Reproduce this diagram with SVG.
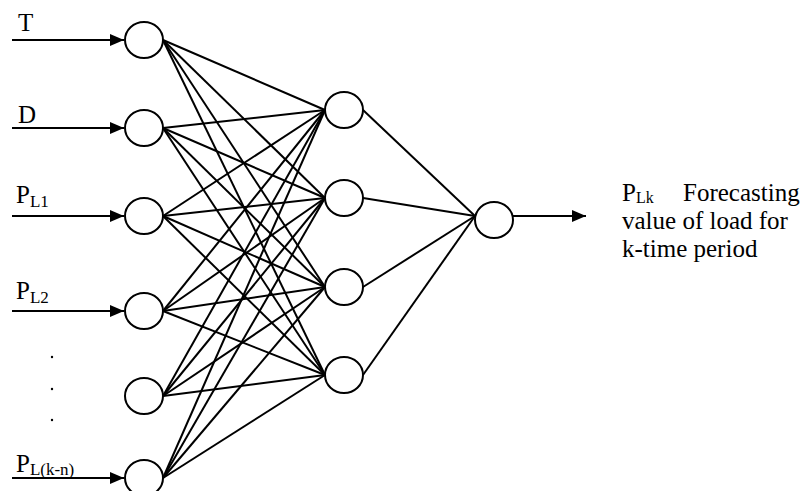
<svg xmlns="http://www.w3.org/2000/svg" width="810" height="491" viewBox="0 0 810 491">
<defs>
<style>
.n{fill:#fff;stroke:#000;stroke-width:2}
.c line{stroke:#000;stroke-width:2}
.t{font-family:"Liberation Serif","Times New Roman",serif;font-size:25px;fill:#000}
.s{font-size:17px}
.s2{font-size:16px}
</style>
<marker id="ah" markerWidth="14" markerHeight="12" refX="14" refY="6" orient="auto" markerUnits="userSpaceOnUse">
<path d="M0,0 L14,6 L0,12 Z" fill="#000"/>
</marker>
</defs>
<rect width="810" height="491" fill="#fff"/>
<g id="connectors" class="c">
<line x1="12" y1="40" x2="124" y2="40" marker-end="url(#ah)"/>
<line x1="12" y1="128" x2="124" y2="128" marker-end="url(#ah)"/>
<line x1="12" y1="216" x2="124" y2="216" marker-end="url(#ah)"/>
<line x1="12" y1="311" x2="124" y2="311" marker-end="url(#ah)"/>
<line x1="12" y1="478" x2="124" y2="478" marker-end="url(#ah)"/>
<line x1="163" y1="40" x2="325" y2="110"/><line x1="163" y1="40" x2="325" y2="198"/><line x1="163" y1="40" x2="325" y2="287"/><line x1="163" y1="40" x2="325" y2="375"/>
<line x1="163" y1="128" x2="325" y2="110"/><line x1="163" y1="128" x2="325" y2="198"/><line x1="163" y1="128" x2="325" y2="287"/><line x1="163" y1="128" x2="325" y2="375"/>
<line x1="163" y1="216" x2="325" y2="110"/><line x1="163" y1="216" x2="325" y2="198"/><line x1="163" y1="216" x2="325" y2="287"/><line x1="163" y1="216" x2="325" y2="375"/>
<line x1="163" y1="311" x2="325" y2="110"/><line x1="163" y1="311" x2="325" y2="198"/><line x1="163" y1="311" x2="325" y2="287"/><line x1="163" y1="311" x2="325" y2="375"/>
<line x1="163" y1="396" x2="325" y2="110"/><line x1="163" y1="396" x2="325" y2="198"/><line x1="163" y1="396" x2="325" y2="287"/><line x1="163" y1="396" x2="325" y2="375"/>
<line x1="163" y1="478" x2="325" y2="110"/><line x1="163" y1="478" x2="325" y2="198"/><line x1="163" y1="478" x2="325" y2="287"/><line x1="163" y1="478" x2="325" y2="375"/>
<line x1="363" y1="110" x2="475" y2="216"/><line x1="363" y1="198" x2="475" y2="216"/><line x1="363" y1="287" x2="475" y2="216"/><line x1="363" y1="375" x2="475" y2="216"/>
<line x1="513" y1="216" x2="586" y2="216" marker-end="url(#ah)"/>
</g>
<g id="in1"><ellipse class="n" cx="144" cy="40" rx="19" ry="18"/><text class="t" x="18" y="31">T</text></g>
<g id="in2"><ellipse class="n" cx="144" cy="128" rx="19" ry="18"/><text class="t" x="18" y="123">D</text></g>
<g id="in3"><ellipse class="n" cx="144" cy="216" rx="19" ry="18"/><text class="t" x="16" y="203">P<tspan class="s" dy="4">L1</tspan></text></g>
<g id="in4"><ellipse class="n" cx="144" cy="311" rx="19" ry="18"/><text class="t" x="16" y="299">P<tspan class="s" dy="4">L2</tspan></text></g>
<g id="in5"><ellipse class="n" cx="144" cy="396" rx="19" ry="18"/>
<circle cx="52" cy="357" r="1.2"/><circle cx="52" cy="389" r="1.2"/><circle cx="52" cy="420" r="1.2"/></g>
<g id="in6"><ellipse class="n" cx="144" cy="478" rx="19" ry="18"/><text class="t" x="16" y="472">P<tspan class="s" dy="3">L(k-n)</tspan></text></g>
<g id="h1"><ellipse class="n" cx="344" cy="110" rx="19" ry="18"/></g>
<g id="h2"><ellipse class="n" cx="344" cy="198" rx="19" ry="18"/></g>
<g id="h3"><ellipse class="n" cx="344" cy="287" rx="19" ry="18"/></g>
<g id="h4"><ellipse class="n" cx="344" cy="375" rx="19" ry="18"/></g>
<g id="out"><ellipse class="n" cx="494" cy="220" rx="19" ry="18"/></g>
<g id="outlabel" class="t">
<text x="622" y="201">P<tspan class="s2" dy="2">Lk</tspan></text>
<text x="683" y="201">Forecasting</text>
<text x="622" y="229">value of load for</text>
<text x="622" y="257">k-time period</text>
</g>
</svg>
